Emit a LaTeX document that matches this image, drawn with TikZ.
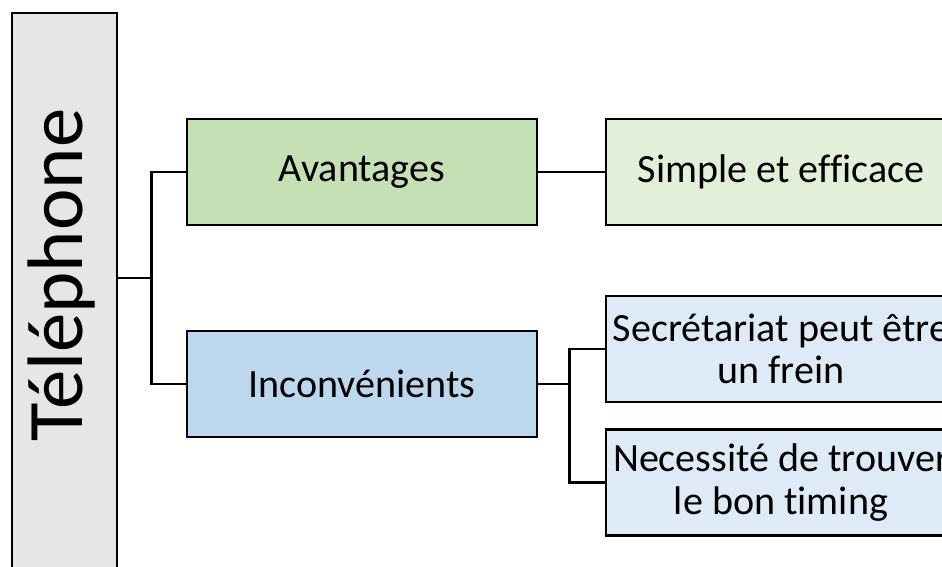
\documentclass[tikz,border=0pt]{standalone}
\usepackage{fontspec}
\setmainfont{Carlito}[Ligatures=NoCommon]
\usepackage{tikz}
\usetikzlibrary{calc}
\definecolor{telgray}{HTML}{E7E6E6}
\definecolor{avgreen}{HTML}{C5E0B4}
\definecolor{avlight}{HTML}{E2F0D9}
\definecolor{incblue}{HTML}{BDD7EE}
\definecolor{inclight}{HTML}{DEEBF7}
\tikzset{
	box/.style={draw=black, line width=1.9pt, minimum width=8.75cm, minimum height=2.65cm, align=center, font=\fontsize{28.5}{30}\selectfont, inner sep=0pt},
	link/.style={line width=1.9pt, color=black}
}

\begin{document}
\begin{tikzpicture}
			%%%%% START %%%%%
			
			\useasboundingbox (0, 0) rectangle (23.55, 14.175);
			\clip (0, 0) rectangle (23.55, 14.175);
			
			\node[box, fill=telgray, minimum width=2.625cm, minimum height=14.85cm] (tel) at (1.6125, 6.425) {};
			\node[rotate=90, font=\fontsize{56}{62}\selectfont] (teltext) at (1.55, 7.3) {Téléphone};
			
			\node[box, fill=avgreen] (av) at (9.05, 9.875) {Avantages};
			\node[box, fill=incblue] (inc) at (9.05, 4.575) {Inconvénients};
			
			\node[box, fill=avlight] (simp) at (19.525, 9.875) {Simple et efficace};
			\node[box, fill=inclight] (sec) at (19.525, 5.45) {Secrétariat peut être\\un frein};
			\node[box, fill=inclight] (nec) at (19.525, 2.1125) {Necessité de trouver\\le bon timing};
			
			\coordinate (j1) at ($(av.west)!0.5!(inc.west)+(-0.85, 0)$);
			\draw[link] (av.west) -- ++(-0.85, 0) |- (inc.west);
			\draw[link] (tel.east |- j1) -- (j1);
			
			\draw[link] (av) -- (simp);
			
			\coordinate (j2) at ($(sec.west)+(-0.875, 0)$);
			\draw[link] (sec.west) -- (j2) |- (nec.west);
			\draw[link] (inc.east) -- (inc.east -| j2);
			
			%%%%% END %%%%%
		\end{tikzpicture}
\end{document}
